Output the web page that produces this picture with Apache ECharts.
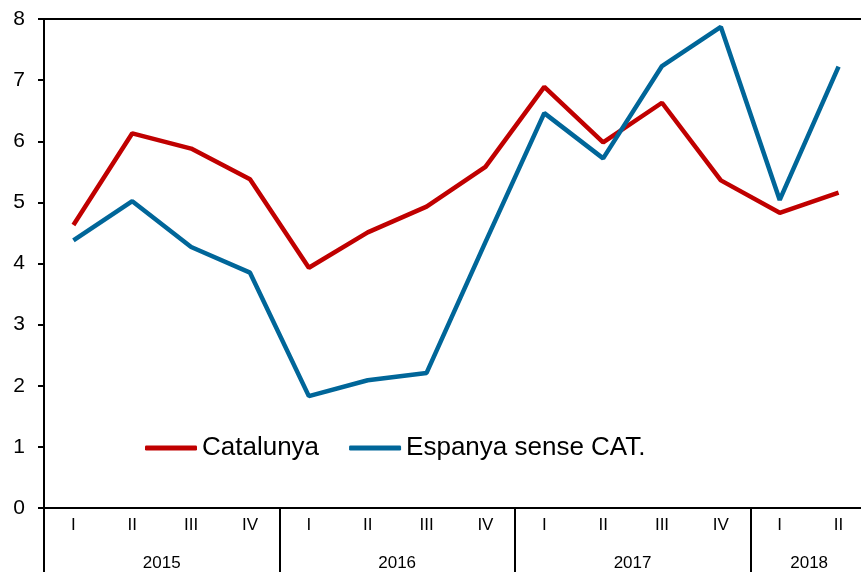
<!DOCTYPE html>
<html>
<head>
<meta charset="utf-8">
<script src="https://cdn.jsdelivr.net/npm/echarts@6/dist/echarts.min.js"></script>
<style>
  html, body { margin: 0; padding: 0; background: #fff; overflow: hidden; }
  #main { width: 870px; height: 572px; }
</style>
</head>
<body>
<div id="main"></div>
<script type="text/javascript">
    // dades
    var quarters = ['I', 'II', 'III', 'IV', 'I', 'II', 'III', 'IV', 'I', 'II', 'III', 'IV', 'I', 'II'];
    var years = ['2015', '2016', '2017', '2018'];
    var yearStart = [0, 4, 8, 12];     // primer trimestre de cada any
    var yearMid = [2, 6, 10, 13];      // centre de cada any
    var catalunya = [4.63, 6.13, 5.88, 5.38, 3.93, 4.51, 4.93, 5.58, 6.89, 5.98, 6.63, 5.36, 4.83, 5.16];
    var espanya = [4.38, 5.02, 4.27, 3.85, 1.83, 2.09, 2.21, 4.35, 6.46, 5.72, 7.23, 7.87, 5.04, 7.22];

    var font = 'Liberation Sans, Arial, sans-serif';
    // el grafic continua una mica fora de la finestra per la dreta
    var myChart = echarts.init(document.getElementById('main'));
    myChart.setOption({
        animation: false,
        textStyle: { fontFamily: font, color: '#000' },
        grid: { left: 44, top: 19, width: 824, height: 489 },
        legend: {
            left: 145, top: 435, padding: 0,
            itemWidth: 52, itemHeight: 5, itemGap: 30,
            icon: 'roundRect',
            textStyle: { fontSize: 26, color: '#000', fontFamily: font },
            data: ['Catalunya', 'Espanya sense CAT.']
        },
        xAxis: [
            {
                type: 'category',
                data: quarters,
                position: 'bottom',
                boundaryGap: true,
                axisLine: { lineStyle: { color: '#000', width: 2 } },
                axisTick: { interval: 0, length: 32, lineStyle: { color: '#000', width: 2 } },
                axisLabel: { interval: 0, fontSize: 17, color: '#000', margin: 9 },
                splitLine: { show: false }
            },
            {
                type: 'value',
                min: 0, max: 14,
                position: 'bottom',
                axisLine: { show: false },
                axisTick: { show: true, customValues: yearStart, length: 64, lineStyle: { color: '#000', width: 2 } },
                axisLabel: {
                    customValues: yearMid, fontSize: 17, color: '#000', margin: 47,
                    formatter: function (v) { return years[yearMid.indexOf(v)]; }
                },
                splitLine: { show: false }
            },
            {
                // linia de dalt del marc
                type: 'value',
                min: 0, max: 14,
                position: 'top',
                axisLine: { show: true, lineStyle: { color: '#000', width: 2 } },
                axisTick: { show: false },
                axisLabel: { show: false },
                splitLine: { show: false }
            }
        ],
        yAxis: {
            type: 'value',
            min: 0, max: 8, interval: 1,
            axisLine: { show: true, lineStyle: { color: '#000', width: 2 } },
            axisTick: { show: true, length: 6, lineStyle: { color: '#000', width: 2 } },
            axisLabel: { fontSize: 21, color: '#000', margin: 19 },
            splitLine: { show: false }
        },
        series: [
            {
                name: 'Catalunya',
                type: 'line',
                data: catalunya,
                symbol: 'none',
                color: '#c00000',
                lineStyle: { width: 4.5, color: '#c00000' }
            },
            {
                name: 'Espanya sense CAT.',
                type: 'line',
                data: espanya,
                symbol: 'none',
                color: '#006699',
                lineStyle: { width: 4.5, color: '#006699' }
            }
        ]
    });
</script>
</body>
</html>
